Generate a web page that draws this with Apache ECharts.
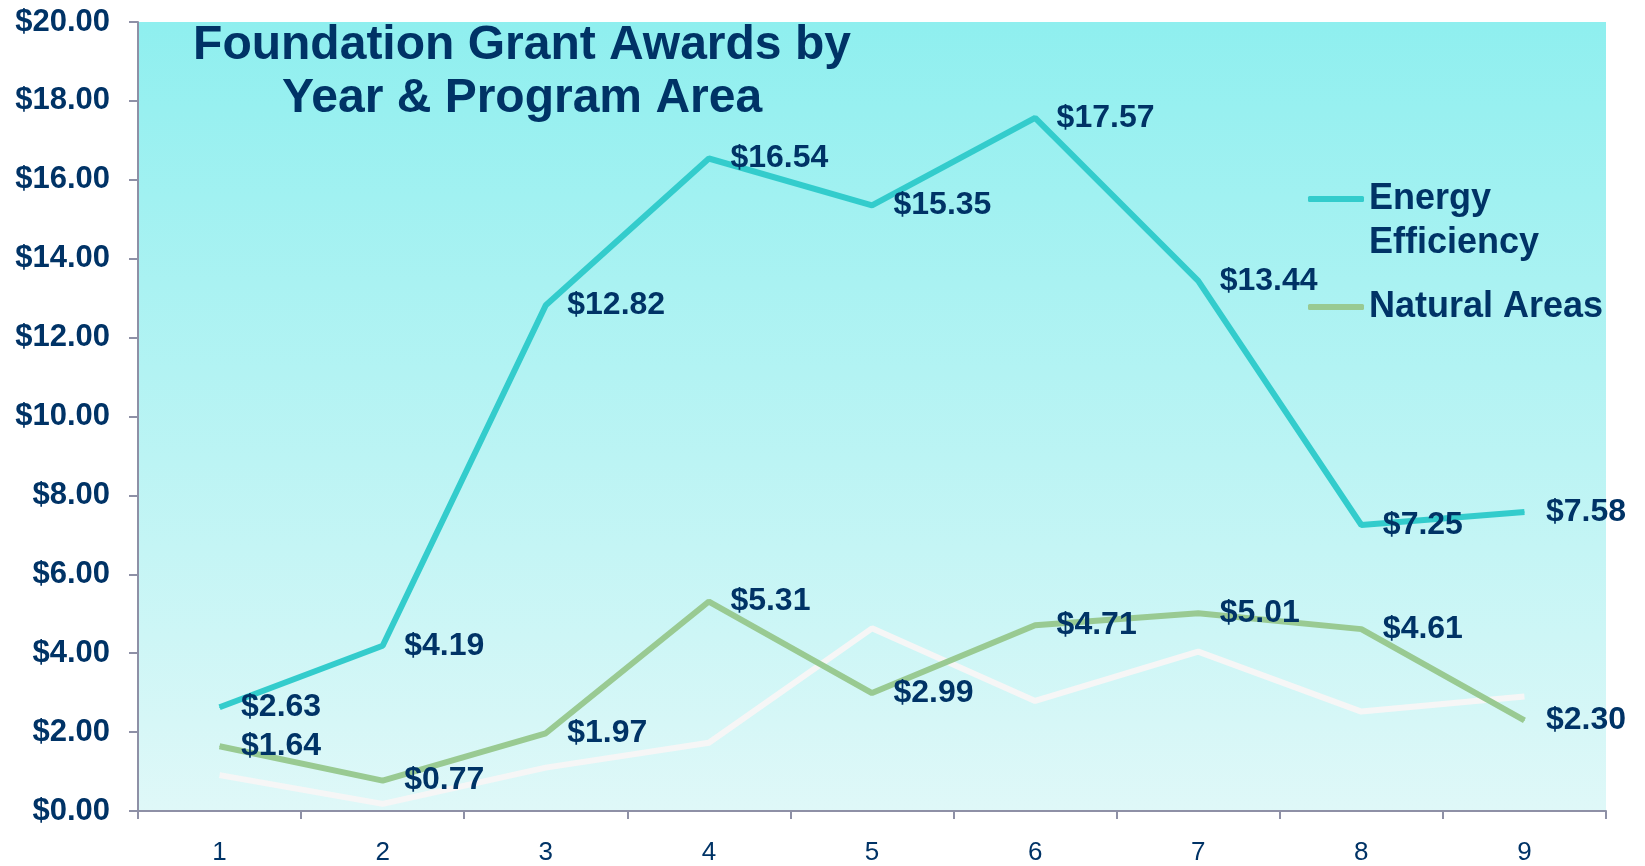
<!DOCTYPE html>
<html>
<head>
<meta charset="utf-8">
<script src="https://cdn.jsdelivr.net/npm/echarts@6/dist/echarts.min.js"></script>
<style>
  html, body { margin: 0; padding: 0; background: #ffffff; }
  #chart { width: 1645px; height: 866px; }
</style>
</head>
<body>
<div id="chart"></div>
<script>
const categories = ['1', '2', '3', '4', '5', '6', '7', '8', '9'];
const energyEfficiency = [2.63, 4.19, 12.82, 16.54, 15.35, 17.57, 13.44, 7.25, 7.58];
const naturalAreas = [1.64, 0.77, 1.97, 5.31, 2.99, 4.71, 5.01, 4.61, 2.30];
const thirdSeries = [0.91, 0.18, 1.10, 1.73, 4.63, 2.79, 4.04, 2.52, 2.90];
const yTicks = { min: 0, max: 20, interval: 2 };

const NAVY = '#003366';
const FONT = 'Liberation Sans, Arial, sans-serif';

const chart = echarts.init(document.getElementById('chart'));

const labelCfg = {
  show: true,
  position: 'right',
  distance: 21,
  color: NAVY,
  fontFamily: FONT,
  fontWeight: 'bold',
  fontSize: 32,
  formatter: p => '$' + p.value.toFixed(2)
};

chart.setOption({
  animation: false,
  title: {
    text: 'Foundation Grant Awards by\nYear & Program Area',
    left: 517,
    top: 14,
    textAlign: 'center',
    textStyle: {
      color: NAVY,
      fontFamily: FONT,
      fontWeight: 'bold',
      fontSize: 48,
      lineHeight: 53
    }
  },
  legend: {
    orient: 'vertical',
    left: 1303,
    top: 128,
    itemWidth: 56,
    itemHeight: 6,
    itemGap: 20,
    icon: 'roundRect',
    data: [
      { name: 'Energy Efficiency' },
      { name: 'Natural Areas' }
    ],
    formatter: name => name === 'Energy Efficiency' ? ' \nEnergy\nEfficiency' : name,
    textStyle: {
      color: NAVY,
      fontFamily: FONT,
      fontWeight: 'bold',
      fontSize: 36,
      lineHeight: 44
    }
  },
  grid: {
    left: 138,
    right: 39,
    top: 22,
    bottom: 53,
    show: true,
    borderWidth: 0,
    backgroundColor: new echarts.graphic.LinearGradient(0, 0, 0, 1, [
      { offset: 0, color: '#8FEFEF' },
      { offset: 1, color: '#DFF8F8' }
    ])
  },
  xAxis: {
    type: 'category',
    data: categories,
    boundaryGap: true,
    axisLine: { lineStyle: { color: '#8E90A6', width: 2 } },
    axisTick: { show: true, length: 8, inside: false, lineStyle: { color: '#8E90A6', width: 2 } },
    axisLabel: {
      color: NAVY,
      fontFamily: FONT,
      fontSize: 26,
      margin: 29
    },
    splitLine: { show: false }
  },
  yAxis: {
    type: 'value',
    min: yTicks.min,
    max: yTicks.max,
    interval: yTicks.interval,
    axisLine: { show: true, lineStyle: { color: '#8E90A6', width: 2 } },
    axisTick: { show: true, length: 9, lineStyle: { color: '#8E90A6', width: 2 } },
    axisLabel: {
      color: NAVY,
      fontFamily: FONT,
      fontWeight: 'bold',
      fontSize: 31,
      margin: 28,
      formatter: v => '$' + v.toFixed(2)
    },
    splitLine: { show: false }
  },
  series: [
    {
      name: 'Third',
      type: 'line',
      data: thirdSeries,
      symbol: 'none',
      lineStyle: { color: '#F6F6F6', width: 6 },
      itemStyle: { color: '#F6F6F6' },
      z: 2
    },
    {
      name: 'Natural Areas',
      type: 'line',
      data: naturalAreas,
      symbol: 'circle',
      symbolSize: 1,
      lineStyle: { color: '#99CA92', width: 6 },
      itemStyle: { color: '#99CA92' },
      label: labelCfg,
      z: 3
    },
    {
      name: 'Energy Efficiency',
      type: 'line',
      data: energyEfficiency,
      symbol: 'circle',
      symbolSize: 1,
      lineStyle: { color: '#33CCCC', width: 6 },
      itemStyle: { color: '#33CCCC' },
      label: labelCfg,
      z: 4
    }
  ]
});
</script>
</body>
</html>
